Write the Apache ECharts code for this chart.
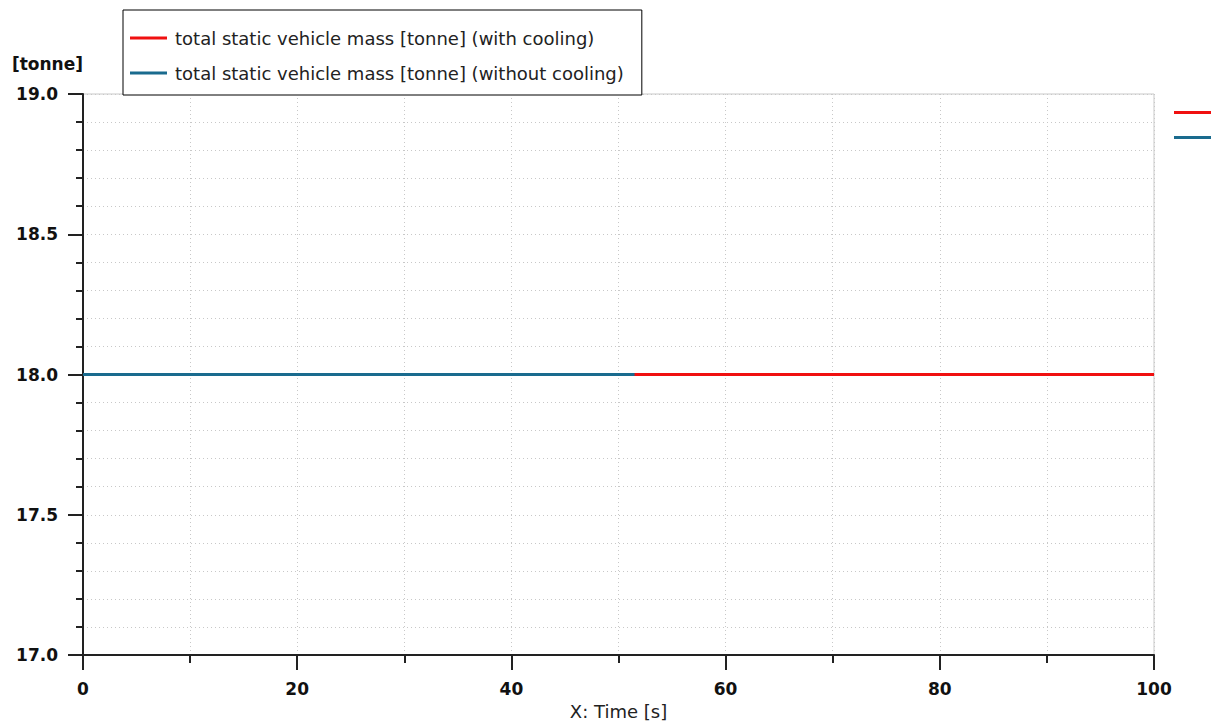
<!DOCTYPE html>
<html><head><meta charset="utf-8">
<script src="https://cdn.jsdelivr.net/npm/echarts@6/dist/echarts.min.js"></script>
<style>html,body{margin:0;padding:0;background:#fff}#c{width:1216px;height:727px}</style>
</head><body><div id="c"></div>
<script>
const seriesNames = ['total static vehicle mass [tonne] (with cooling)', 'total static vehicle mass [tonne] (without cooling)'];
const timeWithCooling = [0, 100];
const massWithCooling = [18.0, 18.0];
const timeWithoutCooling = [0, 51.5];
const massWithoutCooling = [18.0, 18.0];
const xTicks = [0, 20, 40, 60, 80, 100];
const yTicks = [17.0, 17.5, 18.0, 18.5, 19.0];

const FONT = '"DejaVu Sans", "Noto Sans", sans-serif';
const RED = '#f01010', BLUE = '#1a6b8e';
const chart = echarts.init(document.getElementById('c'), null, {renderer: 'svg'});
const gridStyle = {show: true, lineStyle: {color: '#c8c8c8', type: [1, 3], width: 1}};
chart.setOption({
  animation: false,
  backgroundColor: '#fff',
  grid: {left: 83, right: 62, top: 94, bottom: 72, show: true, borderColor: '#c8c8c8', borderWidth: 1},
  legend: [{
    data: seriesNames, orient: 'vertical', left: 123, top: 10,
    borderColor: '#000', borderWidth: 1, backgroundColor: '#fff',
    padding: [18, 18, 12, 7], itemGap: 15, itemWidth: 37, itemHeight: 3, icon: 'rect',
    textStyle: {fontFamily: FONT, fontSize: 18, lineHeight: 20, color: '#222', padding: [0, 0, 0, 3]}
  }, {
    data: seriesNames, orient: 'vertical', left: 1174, top: 111, padding: 0,
    itemGap: 22, itemWidth: 37, itemHeight: 3, icon: 'rect', formatter: () => '',
    textStyle: {fontSize: 10, lineHeight: 10}
  }],
  xAxis: {
    type: 'value', min: xTicks[0], max: xTicks[xTicks.length - 1], interval: 20,
    name: 'X: Time [s]', nameLocation: 'middle', nameGap: 47,
    nameTextStyle: {fontFamily: FONT, fontSize: 18, color: '#222'},
    axisLine: {show: true, onZero: false, lineStyle: {color: '#222', width: 2}},
    axisTick: {show: true, length: 15, lineStyle: {color: '#222', width: 2}},
    minorTick: {show: true, splitNumber: 2, length: 8, lineStyle: {color: '#222', width: 2}},
    axisLabel: {margin: 25, fontFamily: FONT, fontSize: 17, fontWeight: 'bold', color: '#111'},
    splitLine: gridStyle, minorSplitLine: gridStyle
  },
  yAxis: {
    type: 'value', min: yTicks[0], max: yTicks[yTicks.length - 1], interval: 0.5,
    name: '[tonne]', nameLocation: 'end', nameGap: 22,
    nameTextStyle: {fontFamily: FONT, fontSize: 17, fontWeight: 'bold', color: '#111', align: 'right'},
    axisLine: {show: true, onZero: false, lineStyle: {color: '#222', width: 2}},
    axisTick: {show: true, length: 15, lineStyle: {color: '#222', width: 2}},
    minorTick: {show: true, splitNumber: 5, length: 7, lineStyle: {color: '#222', width: 2}},
    axisLabel: {margin: 25, fontFamily: FONT, fontSize: 17, fontWeight: 'bold', color: '#111', formatter: v => v.toFixed(1)},
    splitLine: gridStyle, minorSplitLine: gridStyle
  },
  series: [{
    name: seriesNames[0], type: 'line', showSymbol: false, color: RED,
    lineStyle: {width: 3, color: RED},
    data: timeWithCooling.map((t, i) => [t, massWithCooling[i]])
  }, {
    name: seriesNames[1], type: 'line', showSymbol: false, color: BLUE,
    lineStyle: {width: 3, color: BLUE},
    data: timeWithoutCooling.map((t, i) => [t, massWithoutCooling[i]])
  }]
});
</script></body></html>
